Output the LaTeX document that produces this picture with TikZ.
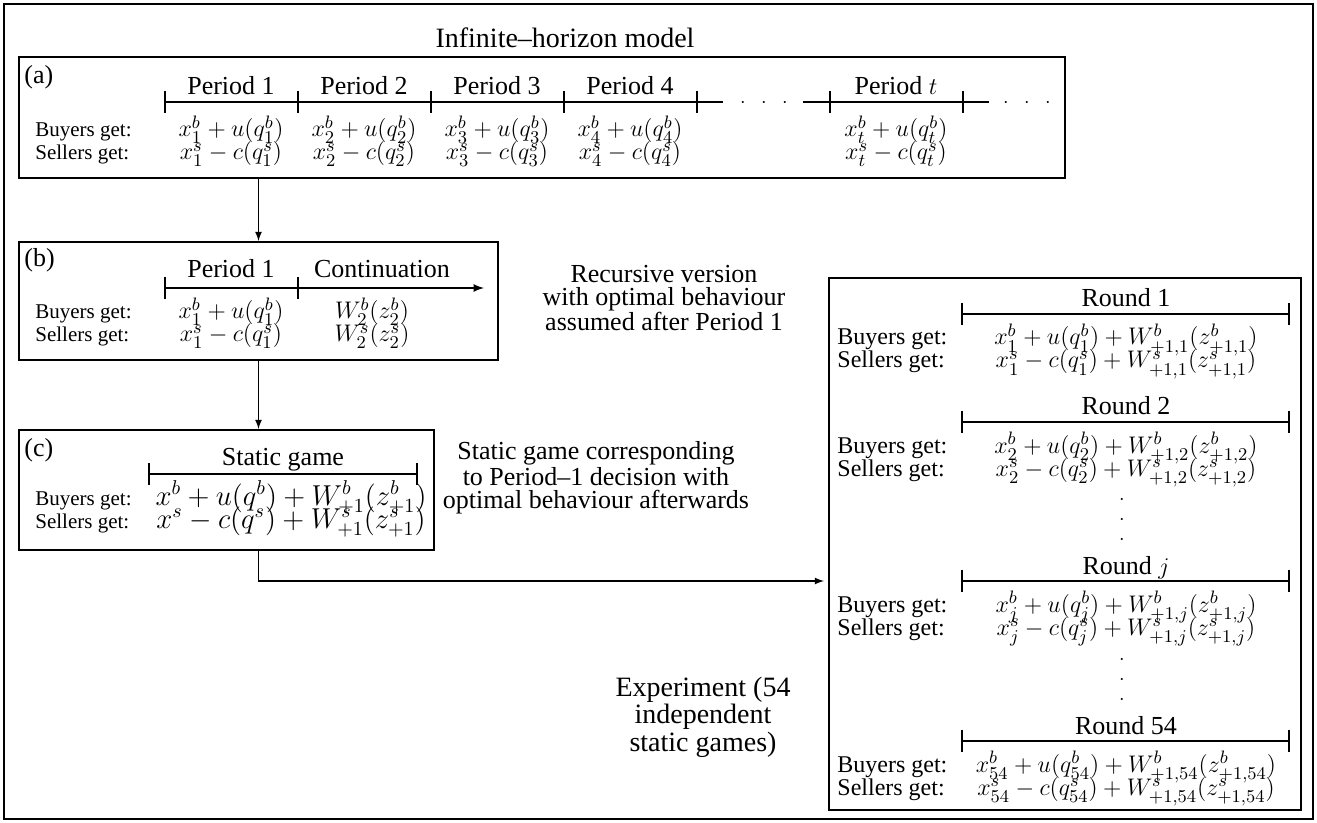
\documentclass[tikz,border=0pt]{standalone}
\usepackage{amsmath,amsfonts,amssymb}
\usepackage{fontspec}
\setmainfont{Liberation Serif}
\usetikzlibrary{calc}
\newcommand{\tickw}[2]{\draw[tickln] ( #1 , #2-11 ) -- ( #1 , #2+11 );}
\newcommand{\panelw}[5]{\node[panel, minimum width={(#4-#2)*0.5pt}, minimum height={(#5-#3)*0.5pt}] (#1) at ( {(#2+#4)/2} , {(#3+#5)/2} ) {};}

\begin{document}
\begin{tikzpicture}[x=0.5pt, y=-0.5pt,
    panel/.style={draw, line width=1pt, inner sep=0pt},
    tline/.style={line width=1.3pt},
    tickln/.style={line width=1.2pt},
    lab/.style={anchor=base, font=\fontsize{13}{13}\selectfont},
    tag/.style={anchor=base west, inner sep=0pt, font=\fontsize{13}{13}\selectfont},
    row/.style={anchor=base west, inner sep=0pt, font=\fontsize{10.5}{10.5}\selectfont},
    pay/.style={anchor=base, font=\fontsize{12.5}{12.5}\selectfont},
    rowr/.style={row, font=\fontsize{12}{12}\selectfont},
    payr/.style={pay, font=\fontsize{13.2}{13.2}\selectfont},
    side/.style={align=center, font=\fontsize{13}{11.5}\selectfont},
    conn/.style={line width=0.6pt, -latex}]
    \useasboundingbox (0,0) rectangle (1317,823);
    \draw[line width=0.8pt] (4,4) rectangle (1313,819);

    % (a) infinite horizon
    \node[anchor=base, font=\fontsize{14}{14}\selectfont] (title) at (565,48) {Infinite--horizon model};
    \panelw{boxa}{19}{57}{1065}{178}
    \node[tag] (taga) at (24,84) {(a)};
    \draw[tline] (165,102) -- (723,102);
    \draw[tline] (803,102) -- (989,102);
    \tickw{165}{102}
    \tickw{298}{102}
    \tickw{431}{102}
    \tickw{564}{102}
    \tickw{697}{102}
    \tickw{830}{102}
    \tickw{963}{102}
    \node[anchor=base] (dotsa) at (764,108) {$\cdot\hspace{5.5pt}\cdot\hspace{5.5pt}\cdot$};
    \node[anchor=base] (dotsb) at (1027,108) {$\cdot\hspace{5.5pt}\cdot\hspace{5.5pt}\cdot$};
    \node[lab] (pa1) at (231,95) {Period 1};
    \node[lab] (pa2) at (364,95) {Period 2};
    \node[lab] (pa3) at (497,95) {Period 3};
    \node[lab] (pa4) at (630,95) {Period 4};
    \node[lab] (pat) at (896,95) {Period $t$};
    \node[row] (buya) at (35,137) {Buyers get:};
    \node[row] (sela) at (35,160) {Sellers get:};
    \node[pay] (ba1) at (231,137) {$x_1^b+u(q_1^b)$};
    \node[pay] (sa1) at (231,160) {$x_1^s-c(q_1^s)$};
    \node[pay] (ba2) at (364,137) {$x_2^b+u(q_2^b)$};
    \node[pay] (sa2) at (364,160) {$x_2^s-c(q_2^s)$};
    \node[pay] (ba3) at (497,137) {$x_3^b+u(q_3^b)$};
    \node[pay] (sa3) at (497,160) {$x_3^s-c(q_3^s)$};
    \node[pay] (ba4) at (630,137) {$x_4^b+u(q_4^b)$};
    \node[pay] (sa4) at (630,160) {$x_4^s-c(q_4^s)$};
    \node[pay] (bat) at (896,137) {$x_t^b+u(q_t^b)$};
    \node[pay] (sat) at (896,160) {$x_t^s-c(q_t^s)$};

    % (b) recursive version
    \panelw{boxb}{19}{242}{498}{360}
    \node[tag] (tagb) at (24,267) {(b)};
    \draw[line width=0.8pt, -latex] (165,288) -- (484,288);
    \tickw{165}{288}
    \tickw{298}{288}
    \node[lab] (pb1) at (231,278) {Period 1};
    \node[lab] (pbc) at (382,278) {Continuation};
    \node[row] (buyb) at (35,319) {Buyers get:};
    \node[row] (selb) at (35,342) {Sellers get:};
    \node[pay] (bb1) at (231,319) {$x_1^b+u(q_1^b)$};
    \node[pay] (sb1) at (231,342) {$x_1^s-c(q_1^s)$};
    \node[pay] (bbc) at (372,319) {$W_2^b(z_2^b)$};
    \node[pay] (sbc) at (372,342) {$W_2^s(z_2^s)$};
    \node[side] (recur) at (664,298) {Recursive version\\with optimal behaviour\\assumed after Period 1};
    \draw[conn] (boxa.south -| boxb.north) -- (boxb.north);

    % (c) static game
    \panelw{boxc}{19}{430}{434}{550}
    \node[tag] (tagc) at (24,457) {(c)};
    \draw[tline, line width=1pt] (149,474) -- (417,474);
    \tickw{149}{474}
    \tickw{417}{474}
    \node[lab] (pc) at (283,466) {Static game};
    \node[row] (buyc) at (35,505) {Buyers get:};
    \node[row] (selc) at (35,528) {Sellers get:};
    \node[pay, font=\fontsize{14}{14}\selectfont] (bc) at (291,505) {$x^b+u(q^b)+W_{+1}^b(z_{+1}^b)$};
    \node[pay, font=\fontsize{14}{14}\selectfont] (sc) at (291,528) {$x^s-c(q^s)+W_{+1}^s(z_{+1}^s)$};
    \node[side] (stat) at (596,478) {Static game corresponding\\to Period--1 decision with\\optimal behaviour afterwards};
    \draw[conn] (boxb.south) -- (boxb.south |- boxc.north);

    % experiment
    \panelw{boxd}{829}{278}{1301}{810}
    % round 1
    \draw[tline, line width=1pt] (962,314) -- (1289,314);
    \tickw{962}{314}
    \tickw{1289}{314}
    \node[lab] (r1) at (1126,307) {Round 1};
    \node[rowr] (buy1) at (837,345) {Buyers get:};
    \node[rowr] (sel1) at (837,368) {Sellers get:};
    \node[payr] (b1) at (1126,345) {$x_1^b+u(q_1^b)+W_{+1,1}^b(z_{+1,1}^b)$};
    \node[payr] (s1) at (1126,368) {$x_1^s-c(q_1^s)+W_{+1,1}^s(z_{+1,1}^s)$};
    % round 2
    \draw[tline, line width=1pt] (962,422) -- (1289,422);
    \tickw{962}{422}
    \tickw{1289}{422}
    \node[lab] (r2) at (1126,415) {Round 2};
    \node[rowr] (buy2) at (837,453) {Buyers get:};
    \node[rowr] (sel2) at (837,476) {Sellers get:};
    \node[payr] (b2) at (1126,453) {$x_2^b+u(q_2^b)+W_{+1,2}^b(z_{+1,2}^b)$};
    \node[payr] (s2) at (1126,476) {$x_2^s-c(q_2^s)+W_{+1,2}^s(z_{+1,2}^s)$};
    \foreach \yy in {500,520,540} \node (vda\yy) at (1122,\yy) {$\cdot$};
    % round j
    \draw[tline, line width=1pt] (962,581) -- (1289,581);
    \tickw{962}{581}
    \tickw{1289}{581}
    \node[lab] (rj) at (1126,574) {Round $j$};
    \node[rowr] (buyj) at (837,612) {Buyers get:};
    \node[rowr] (selj) at (837,635) {Sellers get:};
    \node[payr] (bj) at (1126,612) {$x_j^b+u(q_j^b)+W_{+1,j}^b(z_{+1,j}^b)$};
    \node[payr] (sj) at (1126,635) {$x_j^s-c(q_j^s)+W_{+1,j}^s(z_{+1,j}^s)$};
    \foreach \yy in {660,680,700} \node (vdb\yy) at (1122,\yy) {$\cdot$};
    % round 54
    \draw[tline, line width=1pt] (962,741) -- (1289,741);
    \tickw{962}{741}
    \tickw{1289}{741}
    \node[lab] (r54) at (1126,734) {Round 54};
    \node[rowr] (buy54) at (837,772) {Buyers get:};
    \node[rowr] (sel54) at (837,795) {Sellers get:};
    \node[payr] (b54) at (1126,772) {$x_{54}^b+u(q_{54}^b)+W_{+1,54}^b(z_{+1,54}^b)$};
    \node[payr] (s54) at (1126,795) {$x_{54}^s-c(q_{54}^s)+W_{+1,54}^s(z_{+1,54}^s)$};
    \node[side, font=\fontsize{14}{12}\selectfont] (expt) at (703,717) {Experiment (54\\independent\\static games)};
    \coordinate (elbow) at (258.5,581);
    \draw[conn, shorten >=2pt] (boxc.south -| elbow) -- (elbow) -- (elbow -| boxd.west);
\end{tikzpicture}
\end{document}
